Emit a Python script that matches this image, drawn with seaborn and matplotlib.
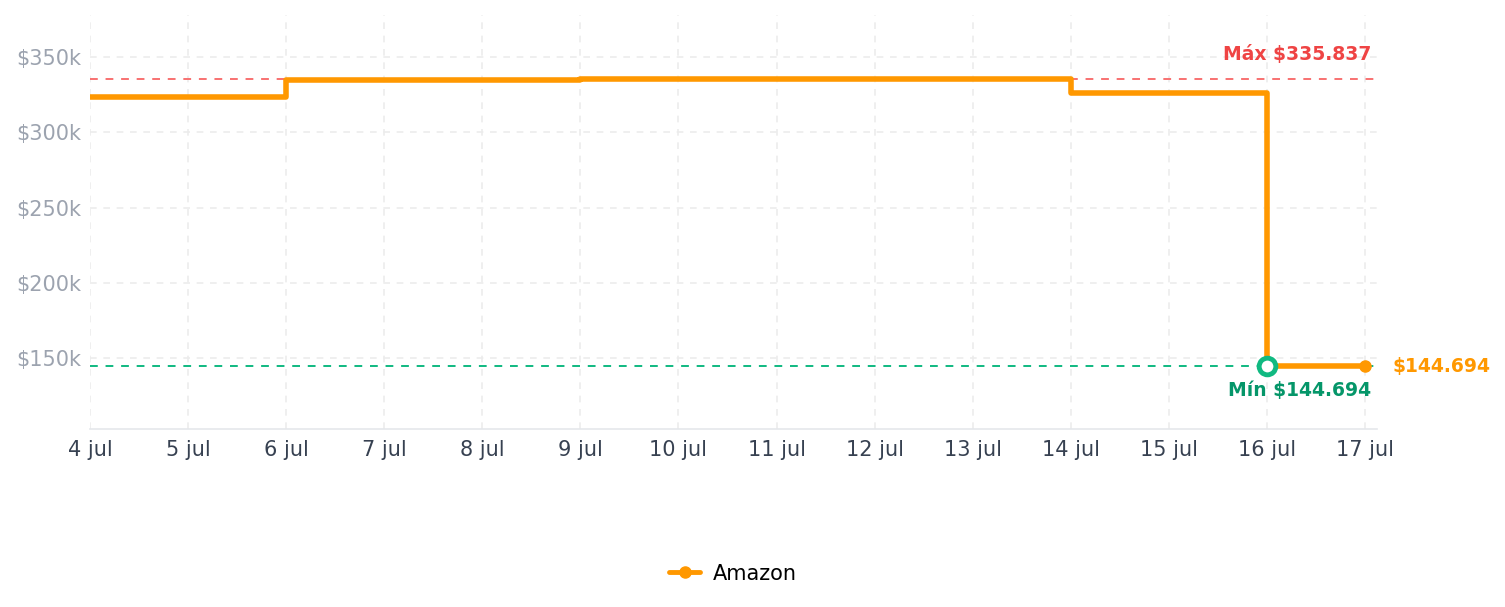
"""Price history step chart (Amazon)."""

import matplotlib
matplotlib.use("Agg")
import matplotlib.pyplot as plt
from matplotlib.lines import Line2D
import pandas as pd
import seaborn as sns

# data
days = [4, 6, 9, 14, 16, 17]
prices = [323400, 334600, 335837, 326000, 144694, 144694]
tick_days = list(range(4, 18))
tick_labels = [f"{d} jul" for d in tick_days]
y_ticks = [150000, 200000, 250000, 300000, 350000]
y_labels = ["$150k", "$200k", "$250k", "$300k", "$350k"]
max_price = 335837
min_price = 144694
min_day = 16
store = "Amazon"

ORANGE = "#ff9800"
RED_LINE = "#f87171"
RED_TEXT = "#ef4444"
GREEN_LINE = "#10b981"
GREEN_TEXT = "#059669"


def main() -> None:
    df = pd.DataFrame({"day": days, "price": prices})
    sns.set_theme(style="white")
    plt.rcParams["font.family"] = ["DejaVu Sans"]

    fig = plt.figure(figsize=(15.05, 6.07), dpi=100)
    ax = fig.add_axes([0.0598, 0.2932, 0.855, 0.682])

    sns.lineplot(
        data=df, x="day", y="price", ax=ax, color=ORANGE, linewidth=4,
        drawstyle="steps-post", zorder=3, legend=False,
    )
    # last point marker
    ax.plot(days[-1:], prices[-1:], "o", color=ORANGE, markersize=8, zorder=4)

    ax.axhline(max_price, color=RED_LINE, linestyle=(0, (4, 4)), linewidth=1.4, zorder=2)
    ax.axhline(min_price, color=GREEN_LINE, linestyle=(0, (4, 4)), linewidth=1.4, zorder=2)
    ax.plot([min_day], [min_price], "o", markersize=12, markerfacecolor="white",
            markeredgecolor=GREEN_LINE, markeredgewidth=3.5, zorder=5)

    ax.text(17.06, max_price + 9500, "Máx $335.837", color=RED_TEXT,
            fontsize=13.5, fontweight="bold", ha="right", va="bottom")
    ax.text(17.06, min_price - 9500, "Mín $144.694", color=GREEN_TEXT,
            fontsize=13.5, fontweight="bold", ha="right", va="top")
    ax.text(17.28, min_price, "$144.694", color=ORANGE,
            fontsize=13.5, fontweight="bold", ha="left", va="center")

    ax.set_xlim(4, 17.12)
    ax.set_ylim(103000, 378000)
    ax.set_xticks(tick_days)
    ax.set_xticklabels(tick_labels, color="#374151", fontsize=15)
    ax.set_yticks(y_ticks)
    ax.set_yticklabels(y_labels, color="#9ca3af", fontsize=15)
    ax.tick_params(axis="x", length=0, pad=8)
    ax.tick_params(axis="y", length=0, pad=6)
    ax.set_xlabel("")
    ax.set_ylabel("")

    ax.grid(True, color="#ececec", linestyle=(0, (4, 4)), linewidth=1.2)
    for side in ["left", "right", "top"]:
        ax.spines[side].set_visible(False)
    ax.spines["bottom"].set_color("#e5e7eb")
    ax.spines["bottom"].set_linewidth(1.2)

    handle = Line2D([], [], color=ORANGE, linewidth=3.5, marker="o", markersize=8)
    fig.legend([handle], [store], loc="center", bbox_to_anchor=(0.487, 0.055),
               frameon=False, fontsize=15, handlelength=1.5, handletextpad=0.6,
               labelcolor="black")

    fig.savefig("out.png", dpi=100)
    plt.close(fig)


if __name__ == "__main__":
    main()
